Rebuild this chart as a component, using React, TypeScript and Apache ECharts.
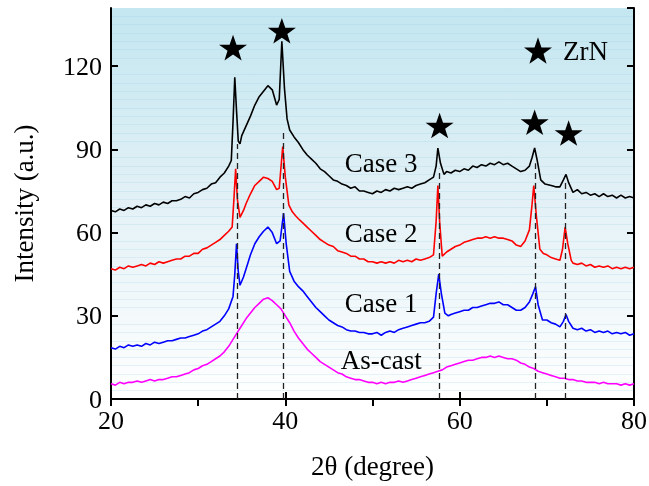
import React, { useEffect, useRef } from "react";
import * as echarts from "echarts";

// 2θ (degree), intensity (a.u.)
const case3: number[][] = [
  [20, 68], [20.5, 67.5], [21, 68.5], [21.5, 68], [22, 69], [22.5, 68.5], [23, 69.5], [23.5, 69], [24, 70], [24.5, 69.5],
  [25, 70.5], [25.5, 70], [26, 71], [26.5, 70.5], [27, 71.5], [27.5, 71.5], [28, 72], [28.5, 73], [29, 72.5], [29.5, 74],
  [30, 74.5], [30.5, 75.5], [31, 76], [31.5, 77.5], [32, 78], [32.5, 80], [33, 81.5], [33.5, 84], [33.8, 86], [34.0, 100],
  [34.2, 116], [34.4, 104], [34.6, 93], [34.8, 92], [35, 95], [35.5, 98.5], [36, 102], [36.5, 106], [37, 109], [37.5, 111],
  [38, 113], [38.5, 111.5], [39, 106], [39.3, 108], [39.6, 129], [39.9, 112], [40.2, 101], [40.5, 97], [41, 94.5], [41.5, 92.5],
  [42, 90], [42.5, 88], [43, 86.5], [43.5, 85], [44, 83], [44.5, 82], [45, 80.5], [45.5, 79], [46, 78.5], [46.5, 77.5],
  [47, 77], [47.5, 76], [48, 76.5], [48.5, 75], [49, 75], [49.5, 74.5], [50, 74], [50.5, 75], [51, 74.5], [51.5, 75.5],
  [52, 75], [52.5, 76], [53, 75.5], [53.5, 76], [54, 76.5], [54.5, 76], [55, 77], [55.5, 77.5], [56, 78], [56.5, 79],
  [57, 80], [57.3, 84], [57.5, 90.5], [57.8, 85], [58.2, 81], [58.5, 82], [59, 81.5], [59.5, 82.5], [60, 82], [60.5, 83],
  [61, 82.5], [61.5, 84], [62, 83.5], [62.5, 84.5], [63, 84], [63.5, 85], [64, 84.5], [64.5, 85.5], [65, 84.5], [65.5, 85],
  [66, 84], [66.5, 83], [67, 82], [67.5, 82.5], [68, 84], [68.3, 87], [68.6, 90.5], [68.9, 86], [69.3, 79], [69.8, 77.5],
  [70.5, 77], [71, 76.5], [71.5, 76.5], [71.9, 79], [72.2, 81], [72.5, 78], [73, 74.5], [73.5, 75.5], [74, 74], [74.5, 74.5],
  [75, 73.5], [75.5, 74], [76, 73], [76.5, 74], [77, 73], [77.5, 73.5], [78, 72.5], [78.5, 73.5], [79, 72.5], [79.5, 73], [80, 72.5],
];

const case2: number[][] = [
  [20, 47], [20.5, 46.5], [21, 47.5], [21.5, 47], [22, 48], [22.5, 47.5], [23, 48], [23.5, 48.5], [24, 48], [24.5, 49],
  [25, 48.5], [25.5, 49.5], [26, 49], [26.5, 49.5], [27, 50], [27.5, 50.5], [28, 50.5], [28.5, 51.5], [29, 51.5], [29.5, 52.5],
  [30, 52.5], [30.5, 54], [31, 54.5], [31.5, 55.5], [32, 56.5], [32.5, 57.5], [33, 59], [33.5, 60.5], [33.9, 62], [34.1, 72],
  [34.3, 83], [34.5, 72], [34.8, 65.5], [35.2, 68], [35.5, 70.5], [36, 74], [36.5, 77], [37, 78.5], [37.5, 80], [38, 79.5],
  [38.5, 78.5], [39, 75.5], [39.3, 76], [39.7, 91], [40.0, 80], [40.4, 70], [40.8, 67.5], [41.2, 66], [41.5, 65], [42, 63.5],
  [42.5, 62], [43, 60.5], [43.5, 59], [44, 57.5], [44.5, 56.5], [45, 55.5], [45.5, 55], [46, 53.5], [46.5, 53], [47, 52.5],
  [47.5, 51.5], [48, 51.5], [48.5, 50.5], [49, 50.5], [49.5, 49.5], [50, 49.5], [50.5, 49], [51, 49.5], [51.5, 49], [52, 49.5],
  [52.5, 49], [53, 50], [53.5, 49.5], [54, 50], [54.5, 49.5], [55, 50.5], [55.5, 50], [56, 50.5], [56.5, 51], [57, 52],
  [57.3, 64], [57.5, 77], [57.7, 64], [58, 51.5], [58.5, 53], [59, 54], [59.5, 55], [60, 55.5], [60.5, 56.5], [61, 57],
  [61.5, 57.5], [62, 58], [62.5, 58], [63, 58.5], [63.5, 58], [64, 58.5], [64.5, 58], [65, 58], [65.5, 57.5], [66, 57],
  [66.5, 55.5], [67, 55], [67.5, 57], [68, 61], [68.3, 70], [68.5, 77], [68.8, 66], [69.2, 54], [69.6, 52.5], [70, 52],
  [70.5, 51], [71, 50.5], [71.5, 50], [71.8, 54], [72.1, 62], [72.4, 56], [72.8, 50], [73, 49], [73.5, 48.5], [74, 49],
  [74.5, 48], [75, 48.5], [75.5, 47.5], [76, 48], [76.5, 47.5], [77, 48], [77.5, 47], [78, 47.5], [78.5, 47], [79, 47.5], [79.5, 47], [80, 47.5],
];

const case1: number[][] = [
  [20, 18.5], [20.5, 18], [21, 19], [21.5, 18.5], [22, 19.5], [22.5, 19], [23, 19.5], [23.5, 19], [24, 20], [24.5, 19.5],
  [25, 20.5], [25.5, 20], [26, 20.5], [26.5, 21], [27, 21], [27.5, 21.5], [28, 22], [28.5, 22], [29, 22.5], [29.5, 23],
  [30, 23.5], [30.5, 24.5], [31, 25], [31.5, 26], [32, 27], [32.5, 28], [33, 30], [33.5, 32.5], [34, 37], [34.2, 45],
  [34.4, 56], [34.6, 46], [34.8, 41], [35.2, 44], [35.5, 47], [36, 52], [36.5, 56], [37, 58.5], [37.5, 60.5], [38, 62],
  [38.5, 60], [39, 56], [39.4, 57], [39.8, 67], [40.1, 56], [40.5, 46], [41, 42.5], [41.5, 40.5], [42, 39], [42.5, 37],
  [43, 35], [43.5, 33], [44, 31.5], [44.5, 30], [45, 28.5], [45.5, 27.5], [46, 26.5], [46.5, 26], [47, 25], [47.5, 24.5],
  [48, 24.5], [48.5, 24], [49, 24], [49.5, 23.5], [50, 23.5], [50.5, 24], [51, 23], [51.5, 24], [52, 24.5], [52.5, 24],
  [53, 25], [53.5, 25.5], [54, 26], [54.5, 26.5], [55, 27], [55.5, 27.5], [56, 27.5], [56.5, 28], [57, 29.5], [57.3, 38],
  [57.6, 45], [57.9, 38], [58.3, 31], [58.7, 30], [59, 30.5], [59.5, 31], [60, 31.5], [60.5, 32], [61, 32], [61.5, 33],
  [62, 33], [62.5, 33.5], [63, 34], [63.5, 34.5], [64, 34.5], [64.5, 35], [65, 34], [65.5, 34], [66, 33], [66.5, 32],
  [67, 32], [67.5, 33], [68, 35], [68.4, 38], [68.7, 40.5], [69, 34], [69.5, 28.5], [70, 28.5], [70.5, 27.5], [71, 27],
  [71.5, 26], [71.9, 28], [72.2, 30.5], [72.5, 28], [73, 25.5], [73.5, 25], [74, 25.5], [74.5, 24.5], [75, 25], [75.5, 24],
  [76, 24.5], [76.5, 24], [77, 24.5], [77.5, 23.5], [78, 24], [78.5, 23.5], [79, 24], [79.5, 23], [80, 23.5],
];

const asCast: number[][] = [
  [20, 5.5], [20.5, 5], [21, 6], [21.5, 5.5], [22, 6], [22.5, 6], [23, 6.5], [23.5, 6], [24, 6.5], [24.5, 7],
  [25, 6.5], [25.5, 7], [26, 7], [26.5, 7.5], [27, 8], [27.5, 8], [28, 8.5], [28.5, 9], [29, 9.5], [29.5, 10.5],
  [30, 11], [30.5, 12], [31, 12.5], [31.5, 13.5], [32, 14.5], [32.5, 15.5], [33, 17], [33.5, 19], [34, 21.5], [34.5, 24],
  [35, 26.5], [35.5, 29], [36, 31], [36.5, 33], [37, 34.5], [37.5, 36], [38, 36.5], [38.5, 35.5], [39, 34], [39.5, 32.5],
  [40, 30], [40.5, 27.5], [41, 24.5], [41.5, 22], [42, 20], [42.5, 18], [43, 16.5], [43.5, 15], [44, 13.5], [44.5, 12.5],
  [45, 11.5], [45.5, 10.5], [46, 9.5], [46.5, 9], [47, 8], [47.5, 7.5], [48, 7], [48.5, 7], [49, 6.5], [49.5, 6],
  [50, 6], [50.5, 5.5], [51, 6], [51.5, 5.5], [52, 6], [52.5, 6], [53, 6.5], [53.5, 6], [54, 6.5], [54.5, 7],
  [55, 7.5], [55.5, 8], [56, 8.5], [56.5, 9], [57, 9.5], [57.5, 10], [58, 10.5], [58.5, 11.5], [59, 12], [59.5, 12.5],
  [60, 13], [60.5, 13.5], [61, 14], [61.5, 14], [62, 14.5], [62.5, 15], [63, 15], [63.5, 15.5], [64, 15], [64.5, 15.5],
  [65, 15], [65.5, 14.5], [66, 14.5], [66.5, 14], [67, 13], [67.5, 12.5], [68, 11.5], [68.5, 11], [69, 10], [69.5, 9.5],
  [70, 9], [70.5, 8.5], [71, 8], [71.5, 7.5], [72, 7.5], [72.5, 7], [73, 7], [73.5, 6.5], [74, 6.5], [74.5, 6],
  [75, 6], [75.5, 6], [76, 5.5], [76.5, 6], [77, 5.5], [77.5, 5.5], [78, 5.5], [78.5, 5], [79, 5.5], [79.5, 5], [80, 5.5],
];

// ZrN peak markers (star positions) and dashed reference lines [x, top]
const zrnStars: number[][] = [[34.0, 126.7], [39.6, 132.8], [57.7, 98.6], [68.6, 99.8], [72.5, 95.9]];
const zrnLines: number[][] = [[34.5, 92], [39.8, 97], [57.65, 83], [68.7, 85], [72.1, 79]];

const curveNames = ["Case 3", "Case 2", "Case 1", "As-cast"];
const curveColors = ["#000000", "#ff0000", "#0000ff", "#ff00ff"];
const curveLabelPos: number[][] = [[51, 85], [51, 59.8], [51, 34.6], [51, 14]];

const xMin = 20, xMax = 80, yMin = 0, yMax = 141;

const FONT = "'Liberation Serif', 'Times New Roman', serif";
const STAR = "path://M50,0 L61.8,35.1 L98,35.1 L68.9,56.7 L79.4,91 L50,70.2 L20.6,91 L31.1,56.7 L2,35.1 L38.2,35.1 Z";

export default function App() {
  const ref = useRef<HTMLDivElement>(null);
  useEffect(() => {
    const chart = echarts.init(ref.current!, null, { renderer: "svg" });
    const curves = [case3, case2, case1, asCast];
    chart.setOption({
      animation: false,
      textStyle: { fontFamily: FONT },
      grid: {
        left: 111, right: 15, top: 8, bottom: 87, containLabel: false, outerBoundsMode: "none",
        show: true, borderWidth: 0,
        backgroundColor: new echarts.graphic.LinearGradient(0, 0, 0, 1, [
          { offset: 0, color: "#c3e6f0" },
          { offset: 0.5, color: "#e3f1f6" },
          { offset: 1, color: "#ffffff" },
        ]),
      },
      legend: {
        data: [{ name: "ZrN", itemStyle: { opacity: 1, color: "#000" } }],
        left: 519, top: 32, itemWidth: 28, itemHeight: 27,
        textStyle: { fontFamily: FONT, fontSize: 27, color: "#000", padding: [0, 0, 0, 6] },
      },
      xAxis: [
        {
          type: "value", min: xMin, max: xMax, interval: 20, position: "bottom",
          name: "2θ (degree)", nameLocation: "middle", nameGap: 53,
          nameTextStyle: { fontFamily: FONT, fontSize: 27, color: "#000" },
          axisLine: { lineStyle: { color: "#000", width: 2 } },
          axisTick: { inside: true, length: 7, lineStyle: { color: "#000", width: 2 } },
          axisLabel: { fontFamily: FONT, fontSize: 26, color: "#000", margin: 8 },
          splitLine: { show: false },
        },
        {
          type: "value", min: xMin, max: xMax, interval: 10, position: "top",
          axisLine: { lineStyle: { color: "#000", width: 2 } },
          axisTick: { inside: true, length: 7, lineStyle: { color: "#000", width: 2 } },
          axisLabel: { show: false },
          splitLine: { show: false },
        },
      ],
      yAxis: [
        {
          type: "value", min: yMin, max: yMax, interval: 30, position: "left",
          name: "Intensity (a.u.)", nameLocation: "middle", nameGap: 74,
          nameTextStyle: { fontFamily: FONT, fontSize: 27, color: "#000" },
          axisLine: { lineStyle: { color: "#000", width: 2 } },
          axisTick: { inside: true, length: 7, lineStyle: { color: "#000", width: 2 } },
          axisLabel: { fontFamily: FONT, fontSize: 26, color: "#000", margin: 9, showMaxLabel: false },
          splitLine: { show: false },
          minorTick: { show: false, splitNumber: 10 },
          minorSplitLine: { show: true, lineStyle: { color: "rgba(150,205,226,0.22)", width: 1 } },
        },
        {
          type: "value", min: yMin, max: yMax, interval: 30, position: "right",
          axisLine: { lineStyle: { color: "#000", width: 2 } },
          axisTick: { inside: true, length: 7, lineStyle: { color: "#000", width: 2 } },
          axisLabel: { show: false },
          splitLine: { show: false },
        },
      ],
      series: [
        ...curves.slice().reverse().map((d, i) => {
          const k = curves.length - 1 - i;
          return {
            name: curveNames[k], type: "line", data: d, showSymbol: false, symbol: "none",
            lineStyle: { color: curveColors[k], width: 1.6 }, z: 3,
          };
        }),
        {
          name: "ZrN", type: "scatter", data: zrnStars, symbol: STAR, symbolSize: [28, 27],
          symbolKeepAspect: true, itemStyle: { color: "#000", opacity: 1 }, z: 5,
          markLine: {
            silent: true, symbol: ["none", "none"], label: { show: false },
            lineStyle: { color: "#222", width: 1.3, type: [6, 4], opacity: 1 },
            data: zrnLines.map((p) => [{ coord: [p[0], 0] }, { coord: [p[0], p[1]] }]),
          },
        },
        {
          name: "labels", type: "scatter", symbolSize: 0, silent: true, z: 6,
          itemStyle: { opacity: 1 },
          data: curveLabelPos.map((p, i) => ({ name: curveNames[i], value: p })),
          label: {
            show: true, position: "inside", formatter: "{b}",
            fontFamily: FONT, fontSize: 27, color: "#000", opacity: 1,
          },
        },
      ],
    });
    return () => chart.dispose();
  }, []);
  return <div ref={ref} style={{ position: "fixed", left: 0, top: 0, width: 649, height: 486 }} />;
}
